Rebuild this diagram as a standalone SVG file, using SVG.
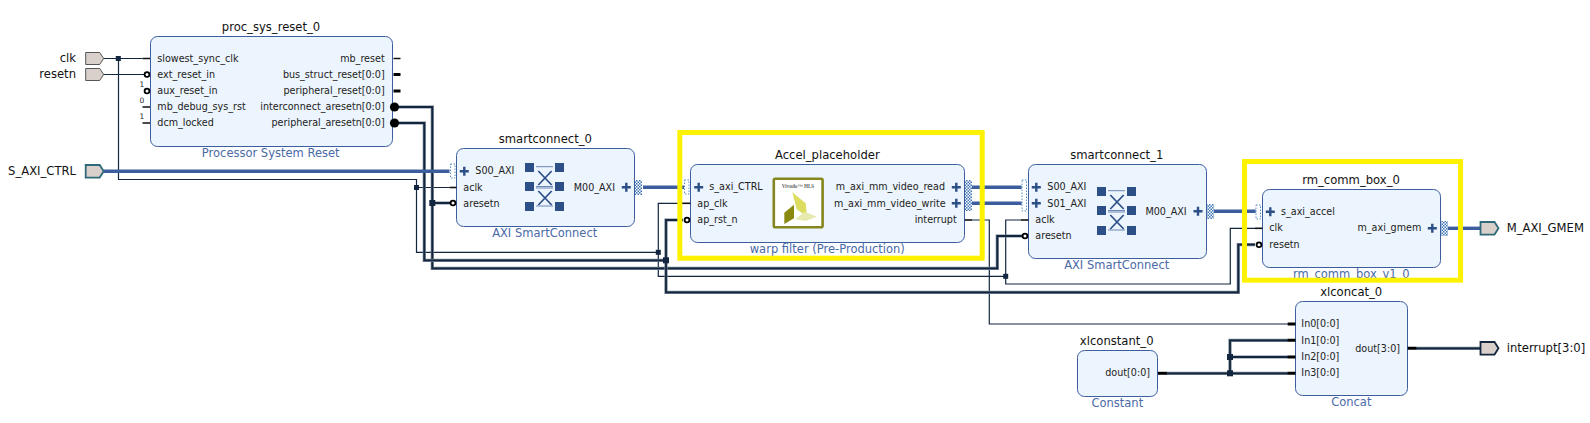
<svg xmlns="http://www.w3.org/2000/svg" width="1590" height="423" viewBox="0 0 1590 423">
<style>
text{font-family:"DejaVu Sans",Verdana,sans-serif;fill:#111}
.t{font-size:11.6px;text-anchor:middle}
.e{font-size:11.6px}
.er{font-size:11.6px;text-anchor:end}
.v{font-size:11.5px;text-anchor:middle;fill:#4a6aa8}
.p{font-size:9.6px;fill:#222}
.pr{font-size:9.6px;fill:#222;text-anchor:end}
.n{font-size:7.5px;fill:#222}
.box{fill:#ecf4fd;stroke:#3c5e9e;stroke-width:1}
.w{fill:none;stroke:#12263f;stroke-width:1.2}
.h{fill:none;stroke:#75828f;stroke-width:3.2}
.c{fill:none;stroke:#12263f;stroke-width:1.8}
.b{fill:none;stroke:#3c5e9e;stroke-width:3.4}
.s1{stroke:#111;stroke-width:1.6;fill:none}
.s2{stroke:#000;stroke-width:3;fill:none}
.inv{fill:#fff;stroke:#000;stroke-width:1.8}
.dot{fill:#000}
.j{fill:#12263f}
.plus{stroke:#2c4f87;stroke-width:2.4;fill:none}
.di{fill:none;stroke:#5a8cc8;stroke-width:1;stroke-dasharray:1.5 1.5}
.dq{fill:url(#dots)}
.port{fill:#d9d0cb;stroke:#555;stroke-width:1}
.pb{fill:#d9d0cb;stroke:#2f6a7a;stroke-width:1.8}
.pi{fill:#d9d0cb;stroke:#12263f;stroke-width:1.8}
.hl{fill:none;stroke:#fff200;stroke-width:5}
</style>
<defs>
<pattern id="dots" width="3" height="3" patternUnits="userSpaceOnUse">
<rect width="3" height="3" fill="#fff"/>
<rect width="1.5" height="1.5" fill="#3f74b5"/>
<rect x="1.5" y="1.5" width="1.5" height="1.5" fill="#3f74b5"/>
</pattern>
<g id="xbar">
<g fill="#2c4f87">
<rect x="0" y="0" width="9" height="9"/><rect x="30" y="0" width="9" height="9"/>
<rect x="0" y="19" width="9" height="9"/><rect x="30" y="19" width="9" height="9"/>
<rect x="0" y="39" width="9" height="9"/><rect x="30" y="39" width="9" height="9"/>
</g>
<path d="M11 3.7H28M11 23.5H28M11 25H28M11 43H28" fill="none" stroke="#6d87b5" stroke-width="1"/>
<path d="M13.3 8L26.7 22M26.7 8L13.3 22M13.3 28L26.7 42M26.7 28L13.3 42" fill="none" stroke="#2c4f87" stroke-width="1.7"/>
</g>
</defs>

<g id="connectors">
<path class="w" d="M102 58.5H142.5M118.5 58.5V179.5H416.5V252.3H658.3M416.5 187.5H449.5M658.3 252.3V203.3H682M658.3 252.3V276.3H1005.7M1005.7 276.3V220H1021M1005.7 276.3V284H1230.3V228.3H1255"/>
<path class="w" d="M102 74.5H144.5"/>
<path class="w" d="M972 220H989.3V324H1288"/>
<path class="h" d="M395 107H432.3V268.3H997.3V236H1022M432.3 203H450"/>
<path class="c" d="M395 107H432.3V268.3H997.3V236H1022M432.3 203H450"/>
<path class="h" d="M395 123H424.3V260.3H666M666 260.3V220H683M666 260.3V292.3H1238.3V244.7H1255"/>
<path class="c" d="M395 123H424.3V260.3H666M666 260.3V220H683M666 260.3V292.3H1238.3V244.7H1255"/>
<path class="h" d="M1166 373.3H1288M1230 373.3V340.3H1288M1230 357H1288"/>
<path class="c" d="M1166 373.3H1288M1230 373.3V340.3H1288M1230 357H1288"/>
<path class="h" d="M1416 348.3H1480"/>
<path class="c" d="M1416 348.3H1480"/>
<path class="b" d="M102 171.3H449.5"/>
<path class="b" d="M643 187.3H684"/>
<path class="b" d="M972 187.3H1021.7M972 203.3H1021.7"/>
<path class="b" d="M1214 211.3H1255.7"/>
<path class="b" d="M1448 228.3H1480"/>
<rect class="j" x="115.8" y="56" width="5" height="5"/>
<rect class="j" x="414" y="185" width="5" height="5"/>
<rect class="j" x="429.3" y="200" width="6" height="6"/>
<rect class="j" x="655.8" y="249.8" width="5" height="5"/>
<rect class="j" x="663" y="257.3" width="6" height="6"/>
<rect class="j" x="1003.2" y="273.8" width="5" height="5"/>
<rect class="j" x="1227" y="354" width="6" height="6"/>
<rect class="j" x="1227" y="370.3" width="6" height="6"/>
</g>

<g id="port_clk"><path class="port" d="M85.7 52.5h14l4 6l-4 6h-14z"/><text class="er" x="76" y="62">clk</text></g>
<g id="port_resetn"><path class="port" d="M85.7 68.5h14l4 6l-4 6h-14z"/><text class="er" x="76" y="78">resetn</text></g>
<g id="port_S_AXI_CTRL"><path class="pb" d="M85.7 165h14l4 6.3l-4 6.3h-14z"/><text class="er" x="76" y="175">S_AXI_CTRL</text></g>
<g id="port_M_AXI_GMEM"><path class="pb" d="M1480.5 222h14l4 6.3l-4 6.3h-14z"/><text class="e" x="1506.7" y="232">M_AXI_GMEM</text></g>
<g id="port_interrupt"><path class="pi" d="M1480.5 342h14l4 6.3l-4 6.3h-14z"/><text class="e" x="1506.7" y="352">interrupt[3:0]</text></g>

<g id="proc_sys_reset_0">
<text class="t" x="271" y="31">proc_sys_reset_0</text>
<rect class="box" x="150.5" y="36.5" width="242" height="110" rx="7"/>
<text class="v" x="270.7" y="157">Processor System Reset</text>
<path class="s1" d="M142.5 58.5H150M142.5 107H150M142.5 123H150M393.5 58.5H400.5"/>
<path class="s2" d="M393.5 74.5H400.5M393.5 91H400.5"/>
<circle class="inv" cx="147" cy="74.5" r="2.4"/>
<circle class="inv" cx="147" cy="91" r="2.4"/>
<circle class="dot" cx="394.5" cy="107" r="4.6"/>
<circle class="dot" cx="394.5" cy="123" r="4.6"/>
<text class="n" x="139.5" y="87">1</text><text class="n" x="139.5" y="103">0</text><text class="n" x="139.5" y="119">1</text>
<text class="p" x="157.3" y="61.8">slowest_sync_clk</text>
<text class="p" x="157.3" y="77.8">ext_reset_in</text>
<text class="p" x="157.3" y="94">aux_reset_in</text>
<text class="p" x="157.3" y="110">mb_debug_sys_rst</text>
<text class="p" x="157.3" y="126">dcm_locked</text>
<text class="pr" x="384.7" y="61.8">mb_reset</text>
<text class="pr" x="384.7" y="77.8">bus_struct_reset[0:0]</text>
<text class="pr" x="384.7" y="94">peripheral_reset[0:0]</text>
<text class="pr" x="384.7" y="110">interconnect_aresetn[0:0]</text>
<text class="pr" x="384.7" y="126">peripheral_aresetn[0:0]</text>
</g>

<g id="smartconnect_0">
<text class="t" x="545.3" y="143.3">smartconnect_0</text>
<rect class="box" x="456.5" y="148.5" width="178" height="78" rx="7"/>
<text class="v" x="544.7" y="237">AXI SmartConnect</text>
<rect class="di" x="450.5" y="164" width="4.5" height="14"/>
<path class="plus" d="M459.8 171.3H468.8M464.3 166.8V175.8"/>
<path class="s1" d="M449.5 187.5H456.5"/>
<circle class="inv" cx="453" cy="203" r="2.4"/>
<use href="#xbar" x="525" y="163"/>
<text class="p" x="475.3" y="174.2">S00_AXI</text>
<text class="p" x="463.3" y="190.5">aclk</text>
<text class="p" x="463.3" y="206.5">aresetn</text>
<text class="pr" x="615" y="190.5">M00_AXI</text>
<path class="plus" d="M621.8 187.3H630.8M626.3 182.8V191.8"/>
<rect class="dq" x="635" y="180" width="7" height="15"/>
</g>

<g id="Accel_placeholder">
<text class="t" x="827.3" y="158.7">Accel_placeholder</text>
<rect class="box" x="690.5" y="164.5" width="274" height="78" rx="7"/>
<text class="v" x="827.3" y="252.7">warp filter (Pre-Production)</text>
<rect class="di" x="684.5" y="180" width="4.5" height="14"/>
<path class="plus" d="M694.2 187.3H703.2M698.7 182.8V191.8"/>
<path class="s1" d="M682 203.3H690.5"/>
<circle class="inv" cx="687" cy="220" r="2.4"/>
<text class="p" x="709.3" y="190.3">s_axi_CTRL</text>
<text class="p" x="697.3" y="206.5">ap_clk</text>
<text class="p" x="697.3" y="223">ap_rst_n</text>
<text class="pr" x="945" y="190.3">m_axi_mm_video_read</text>
<text class="pr" x="945.7" y="206.5">m_axi_mm_video_write</text>
<text class="pr" x="956.7" y="223">interrupt</text>
<path class="plus" d="M951.8 187.3H960.8M956.3 182.8V191.8M951.8 203.3H960.8M956.3 198.8V207.8"/>
<rect class="dq" x="965" y="180" width="7" height="31"/>
<path class="s1" d="M964.7 220H972"/>
<rect x="773.8" y="178.8" width="48.8" height="48.5" rx="1.5" fill="#fff" stroke="#86861e" stroke-width="2.6"/>
<text x="798" y="187.8" font-size="5.2" font-weight="bold" text-anchor="middle" style="font-family:'Liberation Serif',serif;fill:#666">Vivado™ HLS</text>
<path fill="#dcdc60" d="M792.3 192.3L805.7 203.3L807 216.7L796.7 209.3Z"/>
<path fill="#8a8a10" d="M784.3 212.7L794 204.7V218.3L784.3 224Z"/>
<path fill="#e6eaae" d="M795 219.3L805 211.7L816.7 216.7L805.7 221Z"/>
</g>

<g id="smartconnect_1">
<text class="t" x="1116.7" y="158.7">smartconnect_1</text>
<rect class="box" x="1028.5" y="164.5" width="178" height="94" rx="7"/>
<text class="v" x="1116.7" y="269">AXI SmartConnect</text>
<rect class="di" x="1022" y="180" width="4.5" height="31"/>
<path class="plus" d="M1031.8 187.3H1040.8M1036.3 182.8V191.8M1031.8 203.3H1040.8M1036.3 198.8V207.8"/>
<path class="s1" d="M1021 220H1028.5"/>
<circle class="inv" cx="1025" cy="236" r="2.4"/>
<use href="#xbar" x="1097" y="187"/>
<text class="p" x="1047.3" y="190.3">S00_AXI</text>
<text class="p" x="1047.3" y="206.5">S01_AXI</text>
<text class="p" x="1035.3" y="222.8">aclk</text>
<text class="p" x="1035.3" y="239">aresetn</text>
<text class="pr" x="1186.7" y="214.5">M00_AXI</text>
<path class="plus" d="M1193.5 211.3H1202.5M1198 206.8V215.8"/>
<rect class="dq" x="1207" y="204" width="7" height="15"/>
</g>

<g id="rm_comm_box_0">
<text class="t" x="1351" y="183.7">rm_comm_box_0</text>
<rect class="box" x="1262.5" y="189.5" width="178" height="78" rx="7"/>
<text class="v" x="1351.3" y="277.7">rm_comm_box_v1_0</text>
<rect class="di" x="1256" y="205" width="4.5" height="14"/>
<path class="plus" d="M1265.8 211.7H1274.8M1270.3 207.2V216.2"/>
<path class="s1" d="M1255 228.3H1262.5"/>
<circle class="inv" cx="1259" cy="244.7" r="2.4"/>
<text class="p" x="1281" y="214.8">s_axi_accel</text>
<text class="p" x="1269.3" y="231.3">clk</text>
<text class="p" x="1269.3" y="247.5">resetn</text>
<text class="pr" x="1421.3" y="231.3">m_axi_gmem</text>
<path class="plus" d="M1427.8 228.3H1436.8M1432.3 223.8V232.8"/>
<rect class="dq" x="1441" y="221" width="7" height="15"/>
</g>

<g id="xlconcat_0">
<text class="t" x="1351.2" y="295.7">xlconcat_0</text>
<rect class="box" x="1295.5" y="301.5" width="112" height="94" rx="7"/>
<text class="v" x="1351.3" y="405.7">Concat</text>
<path class="s2" d="M1287.7 324H1295.5M1287.7 340.3H1295.5M1287.7 357H1295.5M1287.7 373.3H1295.5M1407.7 348.3H1416.3"/>
<text class="p" x="1301.3" y="327.3">In0[0:0]</text>
<text class="p" x="1301.3" y="343.5">In1[0:0]</text>
<text class="p" x="1301.3" y="359.7">In2[0:0]</text>
<text class="p" x="1301.3" y="375.8">In3[0:0]</text>
<text class="pr" x="1400" y="351.5">dout[3:0]</text>
</g>

<g id="xlconstant_0">
<text class="t" x="1116.7" y="345">xlconstant_0</text>
<rect class="box" x="1077.5" y="350.5" width="80" height="46" rx="7"/>
<text class="v" x="1117.3" y="406.7">Constant</text>
<path class="s2" d="M1158 373.3H1166.7"/>
<text class="pr" x="1150" y="376.3">dout[0:0]</text>
</g>

<g id="highlights">
<rect class="hl" x="679.8" y="132.5" width="302.4" height="125.7"/>
<rect class="hl" x="1244.5" y="161.5" width="216" height="118.7"/>
</g>
</svg>
